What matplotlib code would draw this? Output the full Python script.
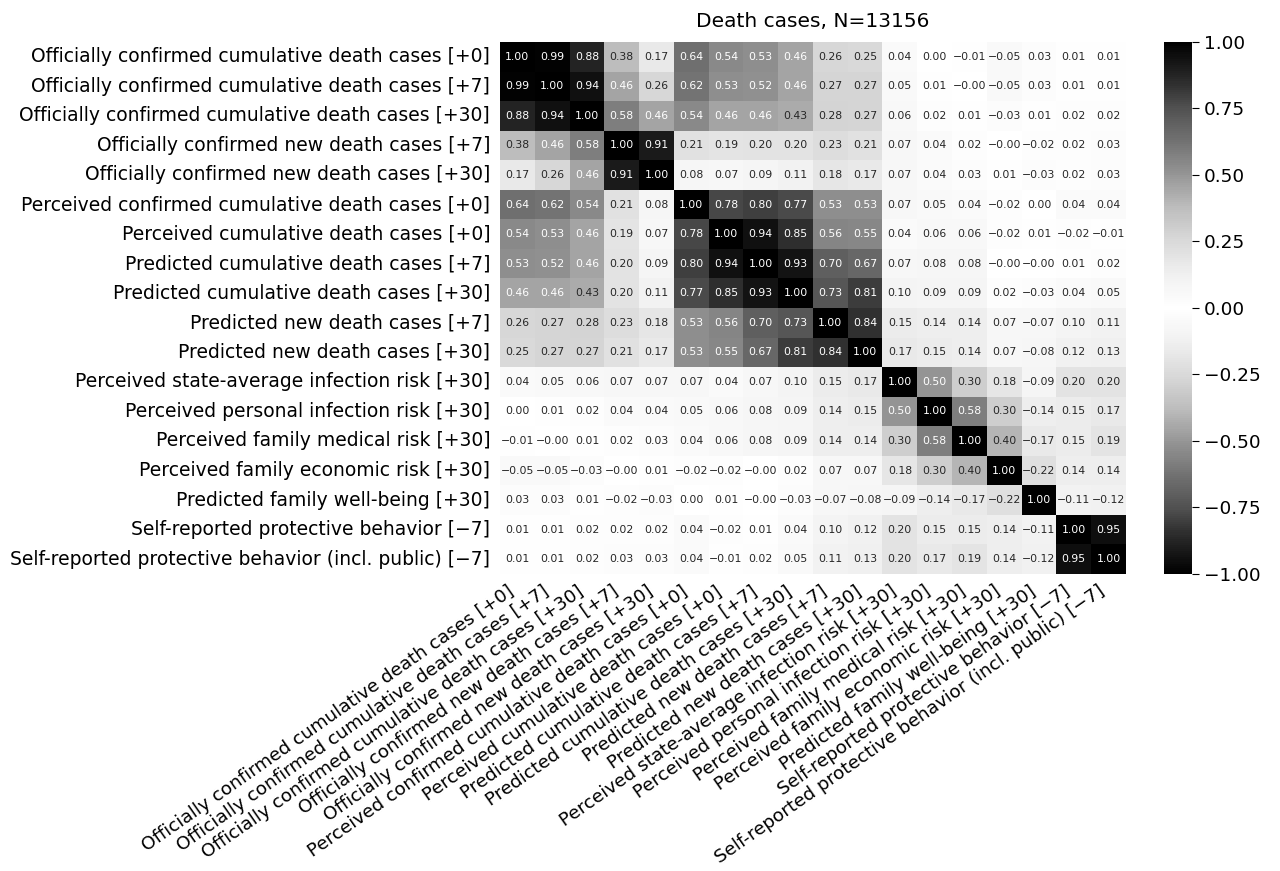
import numpy as np
import matplotlib
matplotlib.use("Agg")
import matplotlib.pyplot as plt
from matplotlib.colors import ListedColormap
import seaborn as sns

labels = [
    "Officially confirmed cumulative death cases [+0]",
    "Officially confirmed cumulative death cases [+7]",
    "Officially confirmed cumulative death cases [+30]",
    "Officially confirmed new death cases [+7]",
    "Officially confirmed new death cases [+30]",
    "Perceived confirmed cumulative death cases [+0]",
    "Perceived cumulative death cases [+0]",
    "Predicted cumulative death cases [+7]",
    "Predicted cumulative death cases [+30]",
    "Predicted new death cases [+7]",
    "Predicted new death cases [+30]",
    "Perceived state-average infection risk [+30]",
    "Perceived personal infection risk [+30]",
    "Perceived family medical risk [+30]",
    "Perceived family economic risk [+30]",
    "Predicted family well-being [+30]",
    "Self-reported protective behavior [\u22127]",
    "Self-reported protective behavior (incl. public) [\u22127]",
]

# correlation matrix (-0.001 where it shows "-0.00")
corr = np.array([
    [1.00, 0.99, 0.88, 0.38, 0.17, 0.64, 0.54, 0.53, 0.46, 0.26, 0.25, 0.04, 0.00, -0.01, -0.05, 0.03, 0.01, 0.01],
    [0.99, 1.00, 0.94, 0.46, 0.26, 0.62, 0.53, 0.52, 0.46, 0.27, 0.27, 0.05, 0.01, -0.001, -0.05, 0.03, 0.01, 0.01],
    [0.88, 0.94, 1.00, 0.58, 0.46, 0.54, 0.46, 0.46, 0.43, 0.28, 0.27, 0.06, 0.02, 0.01, -0.03, 0.01, 0.02, 0.02],
    [0.38, 0.46, 0.58, 1.00, 0.91, 0.21, 0.19, 0.20, 0.20, 0.23, 0.21, 0.07, 0.04, 0.02, -0.001, -0.02, 0.02, 0.03],
    [0.17, 0.26, 0.46, 0.91, 1.00, 0.08, 0.07, 0.09, 0.11, 0.18, 0.17, 0.07, 0.04, 0.03, 0.01, -0.03, 0.02, 0.03],
    [0.64, 0.62, 0.54, 0.21, 0.08, 1.00, 0.78, 0.80, 0.77, 0.53, 0.53, 0.07, 0.05, 0.04, -0.02, 0.00, 0.04, 0.04],
    [0.54, 0.53, 0.46, 0.19, 0.07, 0.78, 1.00, 0.94, 0.85, 0.56, 0.55, 0.04, 0.06, 0.06, -0.02, 0.01, -0.02, -0.01],
    [0.53, 0.52, 0.46, 0.20, 0.09, 0.80, 0.94, 1.00, 0.93, 0.70, 0.67, 0.07, 0.08, 0.08, -0.001, -0.001, 0.01, 0.02],
    [0.46, 0.46, 0.43, 0.20, 0.11, 0.77, 0.85, 0.93, 1.00, 0.73, 0.81, 0.10, 0.09, 0.09, 0.02, -0.03, 0.04, 0.05],
    [0.26, 0.27, 0.28, 0.23, 0.18, 0.53, 0.56, 0.70, 0.73, 1.00, 0.84, 0.15, 0.14, 0.14, 0.07, -0.07, 0.10, 0.11],
    [0.25, 0.27, 0.27, 0.21, 0.17, 0.53, 0.55, 0.67, 0.81, 0.84, 1.00, 0.17, 0.15, 0.14, 0.07, -0.08, 0.12, 0.13],
    [0.04, 0.05, 0.06, 0.07, 0.07, 0.07, 0.04, 0.07, 0.10, 0.15, 0.17, 1.00, 0.50, 0.30, 0.18, -0.09, 0.20, 0.20],
    [0.00, 0.01, 0.02, 0.04, 0.04, 0.05, 0.06, 0.08, 0.09, 0.14, 0.15, 0.50, 1.00, 0.58, 0.30, -0.14, 0.15, 0.17],
    [-0.01, -0.001, 0.01, 0.02, 0.03, 0.04, 0.06, 0.08, 0.09, 0.14, 0.14, 0.30, 0.58, 1.00, 0.40, -0.17, 0.15, 0.19],
    [-0.05, -0.05, -0.03, -0.001, 0.01, -0.02, -0.02, -0.001, 0.02, 0.07, 0.07, 0.18, 0.30, 0.40, 1.00, -0.22, 0.14, 0.14],
    [0.03, 0.03, 0.01, -0.02, -0.03, 0.00, 0.01, -0.001, -0.03, -0.07, -0.08, -0.09, -0.14, -0.17, -0.22, 1.00, -0.11, -0.12],
    [0.01, 0.01, 0.02, 0.02, 0.02, 0.04, -0.02, 0.01, 0.04, 0.10, 0.12, 0.20, 0.15, 0.15, 0.14, -0.11, 1.00, 0.95],
    [0.01, 0.01, 0.02, 0.03, 0.03, 0.04, -0.01, 0.02, 0.05, 0.11, 0.13, 0.20, 0.17, 0.19, 0.14, -0.12, 0.95, 1.00],
])

title = "Death cases, N=13156"
cbar_ticks = [-1, -0.75, -0.5, -0.25, 0, 0.25, 0.5, 0.75, 1]

# black - white - black, built from the Greys map
greys = plt.get_cmap("Greys")
cmap = ListedColormap(np.vstack([greys(np.linspace(1, 0, 128)), greys(np.linspace(0, 1, 128))]))

annot = np.vectorize(lambda v: "{:.2f}".format(v).replace("-", "\u2212"))(corr)

fig = plt.figure(figsize=(12.8, 8.71), dpi=100)
ax = fig.add_axes([0.3906, 0.341, 0.489, 0.6108])
cax = fig.add_axes([0.9094, 0.341, 0.0219, 0.6108])

sns.heatmap(corr, ax=ax, cbar_ax=cax, cmap=cmap, vmin=-1, vmax=1,
            annot=annot, fmt="", annot_kws={"size": 7.8},
            xticklabels=labels, yticklabels=labels)

ax.tick_params(axis="y", length=0, pad=7, labelsize=13.5)
ax.tick_params(axis="x", length=0, pad=6, labelsize=13.2)
plt.setp(ax.get_yticklabels(), rotation=0)
plt.setp(ax.get_xticklabels(), rotation=35, ha="right")
ax.set_title(title, fontsize=14.5, pad=11)

cax.tick_params(labelsize=13.3, length=5)
cax.set_yticks(cbar_ticks)
cax.set_yticklabels(["{:.2f}".format(t).replace("-", "\u2212") for t in cbar_ticks])

fig.savefig("out.png", dpi=100)
